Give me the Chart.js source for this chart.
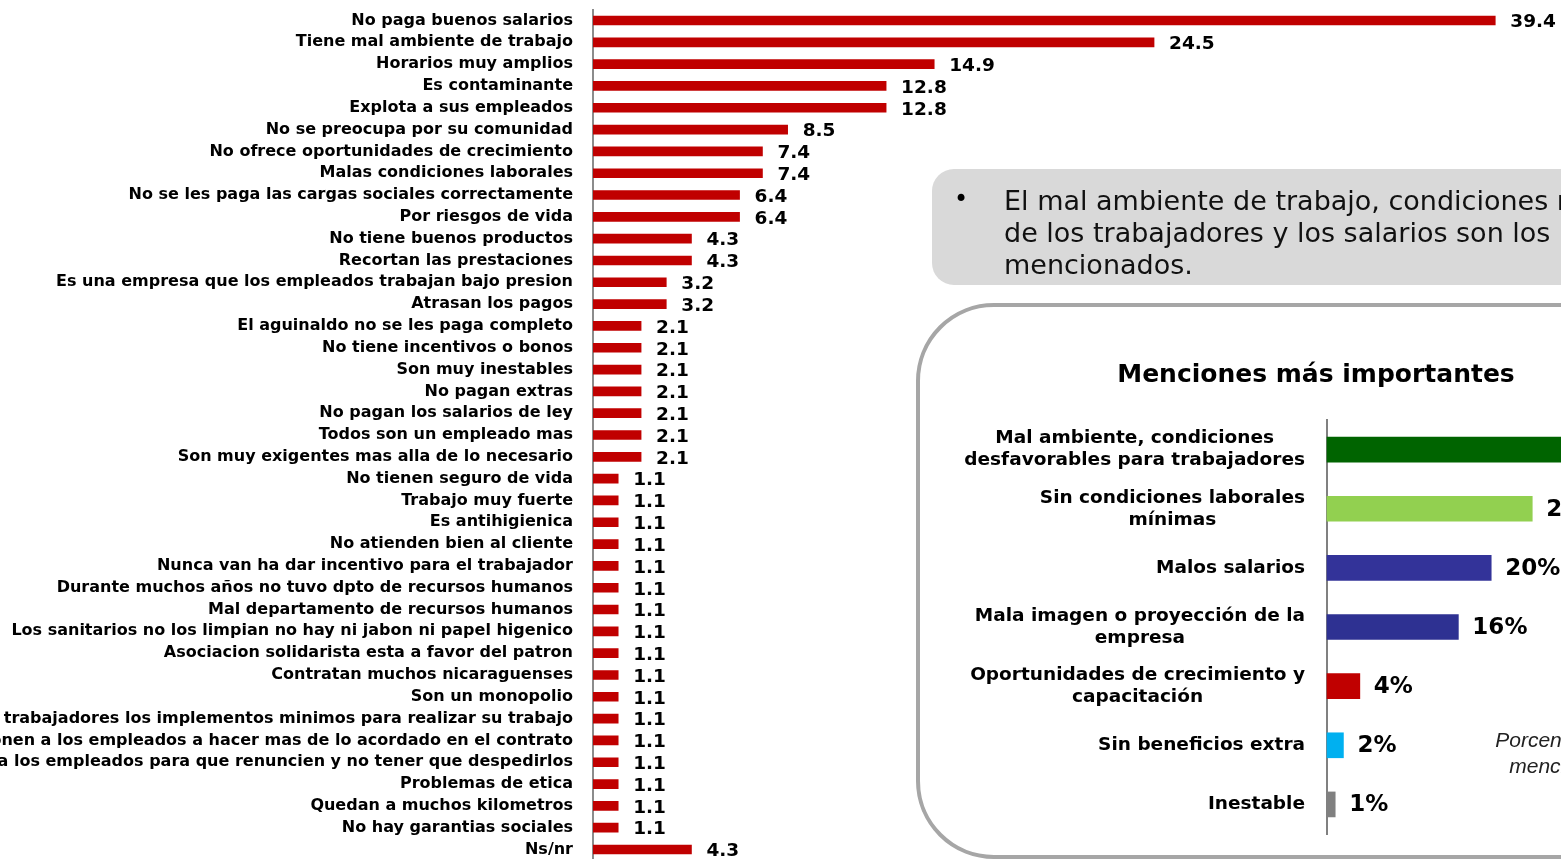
<!DOCTYPE html>
<html>
<head>
<meta charset="utf-8">
<script src="https://cdn.jsdelivr.net/npm/chart.js@4/dist/chart.umd.min.js"></script>
<style>
  html, body { margin: 0; padding: 0; background: #fff; }
  body { width: 1561px; height: 859px; position: relative; overflow: hidden; font-family: "DejaVu Sans", sans-serif; }
  #mainChart { position: absolute; left: 0; top: -20px; }
  .callout {
    position: absolute; left: 932px; top: 169px; width: 800px; height: 116px;
    background: #d9d9d9; border-radius: 22px;
  }
  .callout .bullet { position: absolute; left: 22px; top: 16px; font-size: 24px; }
  .callout .txt {
    position: absolute; left: 72px; top: 16px; font-size: 27px; line-height: 32px;
    white-space: nowrap; color: #111;
  }
  .inset {
    position: absolute; left: 916px; top: 303px; width: 900px; height: 548px;
    border: 4px solid #a6a6a6; border-radius: 78px; background: #fff;
  }
  .inset h2 {
    position: absolute; left: 0; top: 52px; width: 792px; margin: 0; text-align: center;
    font-size: 25px; font-weight: bold; color: #000;
  }
  #insetChart { position: absolute; left: 940px; top: 400px; }
  .note {
    position: absolute; left: 1494px; top: 727px; width: 132px; text-align: center;
    font-family: "Liberation Sans", Arial, sans-serif; font-style: italic; font-size: 21px;
    line-height: 26px; color: #222; white-space: nowrap;
  }
</style>
</head>
<body>
<canvas id="mainChart" width="1561" height="910"></canvas>

<div class="callout">
  <div class="bullet">•</div>
  <div class="txt">El mal ambiente de trabajo, condiciones no favorables<br>de los trabajadores y los salarios son los más<br>mencionados.</div>
</div>

<div class="inset"><h2>Menciones más importantes</h2></div>
<canvas id="insetChart" width="621" height="450"></canvas>
<div class="note">Porcentaje de<br>menciones</div>

<script>
// --- main chart data ---
const mainLabels = [
  'No paga buenos salarios',
  'Tiene mal ambiente de trabajo',
  'Horarios muy amplios',
  'Es contaminante',
  'Explota a sus empleados',
  'No se preocupa por su comunidad',
  'No ofrece oportunidades de crecimiento',
  'Malas condiciones laborales',
  'No se les paga las cargas sociales correctamente',
  'Por riesgos de vida',
  'No tiene buenos productos',
  'Recortan las prestaciones',
  'Es una empresa que los empleados trabajan bajo presion',
  'Atrasan los pagos',
  'El aguinaldo no se les paga completo',
  'No tiene incentivos o bonos',
  'Son muy inestables',
  'No pagan extras',
  'No pagan los salarios de ley',
  'Todos son un empleado mas',
  'Son muy exigentes mas alla de lo necesario',
  'No tienen seguro de vida',
  'Trabajo muy fuerte',
  'Es antihigienica',
  'No atienden bien al cliente',
  'Nunca van ha dar incentivo para el trabajador',
  'Durante muchos años no tuvo dpto de recursos humanos',
  'Mal departamento de recursos humanos',
  'Los sanitarios no los limpian no hay ni jabon ni papel higenico',
  'Asociacion solidarista esta a favor del patron',
  'Contratan muchos nicaraguenses',
  'Son un monopolio',
  'No les dan a los trabajadores los implementos minimos para realizar su trabajo',
  'Exponen a los empleados a hacer mas de lo acordado en el contrato',
  'Presionan a los empleados para que renuncien y no tener que despedirlos',
  'Problemas de etica',
  'Quedan a muchos kilometros',
  'No hay garantias sociales',
  'Ns/nr'
];
const mainValues = [
  39.4, 24.5, 14.9, 12.8, 12.8, 8.5, 7.4, 7.4, 6.4, 6.4, 4.3, 4.3, 3.2, 3.2,
  2.1, 2.1, 2.1, 2.1, 2.1, 2.1, 2.1,
  1.1, 1.1, 1.1, 1.1, 1.1, 1.1, 1.1, 1.1, 1.1, 1.1, 1.1, 1.1, 1.1, 1.1, 1.1, 1.1, 1.1,
  4.3
];

// --- inset chart data ---
const insetLabels = [
  ['Mal ambiente, condiciones', 'desfavorables para trabajadores'],
  ['Sin condiciones laborales', 'mínimas'],
  ['Malos salarios'],
  ['Mala imagen o proyección de la', 'empresa'],
  ['Oportunidades de crecimiento y', 'capacitación'],
  ['Sin beneficios extra'],
  ['Inestable']
];
const insetValues = [32, 25, 20, 16, 4, 2, 1];
const insetColors = ['#006400', '#92d050', '#333399', '#2e3192', '#c00000', '#00b0f0', '#808080'];

// value labels at the end of each bar
const valueLabels = {
  id: 'valueLabels',
  afterDatasetsDraw(chart, args, opts) {
    const ctx = chart.ctx;
    ctx.save();
    ctx.font = opts.font;
    ctx.fillStyle = '#000';
    ctx.textAlign = 'left';
    ctx.textBaseline = 'middle';
    chart.getDatasetMeta(0).data.forEach((bar, i) => {
      const v = chart.data.datasets[0].data[i];
      ctx.fillText(opts.format(v), bar.x + opts.gap, bar.y + opts.dy);
    });
    ctx.restore();
  }
};

new Chart(document.getElementById('mainChart'), {
  type: 'bar',
  data: {
    labels: mainLabels,
    datasets: [{
      data: mainValues,
      backgroundColor: '#c00000',
      barThickness: 9
    }]
  },
  options: {
    indexAxis: 'y',
    responsive: false,
    animation: false,
    devicePixelRatio: 1,
    layout: { padding: { top: 9, bottom: 9, right: 52, left: 0 } },
    scales: {
      x: { display: false, min: 0, max: 40 },
      y: {
        afterFit: s => { s.width = 593; },
        grid: { display: false, drawTicks: false, tickLength: 0 },
        border: { display: true, color: '#8c8c8c', width: 2 },
        ticks: {
          autoSkip: false,
          padding: 20,
          color: '#000',
          font: { family: 'DejaVu Sans', size: 16, weight: 'bold' }
        }
      }
    },
    plugins: {
      legend: { display: false },
      tooltip: { enabled: false },
      valueLabels: { font: 'bold 18.5px "DejaVu Sans"', gap: 15, dy: 2, format: v => v.toFixed(1) }
    }
  },
  plugins: [valueLabels]
});

// category labels for the inset: lines centred, block right-aligned
const insetCatLabels = {
  id: 'insetCatLabels',
  afterDraw(chart) {
    const ctx = chart.ctx;
    const yScale = chart.scales.y;
    const right = yScale.right - 22;
    ctx.save();
    ctx.font = 'bold 18.5px "DejaVu Sans"';
    ctx.fillStyle = '#000';
    ctx.textAlign = 'center';
    ctx.textBaseline = 'middle';
    insetLabels.forEach((lines, i) => {
      const cy = yScale.getPixelForValue(i);
      const w = Math.max(...lines.map(l => ctx.measureText(l).width));
      const cx = right - w / 2;
      const lh = 22;
      lines.forEach((l, k) => {
        ctx.fillText(l, cx, cy + (k - (lines.length - 1) / 2) * lh);
      });
    });
    ctx.restore();
  }
};

new Chart(document.getElementById('insetChart'), {
  type: 'bar',
  data: {
    labels: insetLabels.map(l => l.join(' ')),
    datasets: [{
      data: insetValues,
      backgroundColor: insetColors,
      barThickness: 25,
      clip: false
    }]
  },
  options: {
    indexAxis: 'y',
    responsive: false,
    animation: false,
    devicePixelRatio: 1,
    layout: { padding: { top: 20, bottom: 16, right: 0, left: 0 } },
    scales: {
      x: { display: false, min: 0, max: 28.5 },
      y: {
        afterFit: s => { s.width = 387; },
        grid: { display: false, drawTicks: false, tickLength: 0 },
        border: { display: true, color: '#808080', width: 2 },
        ticks: { display: false }
      }
    },
    plugins: {
      legend: { display: false },
      tooltip: { enabled: false },
      valueLabels: { font: 'bold 23px "DejaVu Sans"', gap: 14, dy: 1, format: v => v + '%' }
    }
  },
  plugins: [valueLabels, insetCatLabels]
});
</script>
</body>
</html>
